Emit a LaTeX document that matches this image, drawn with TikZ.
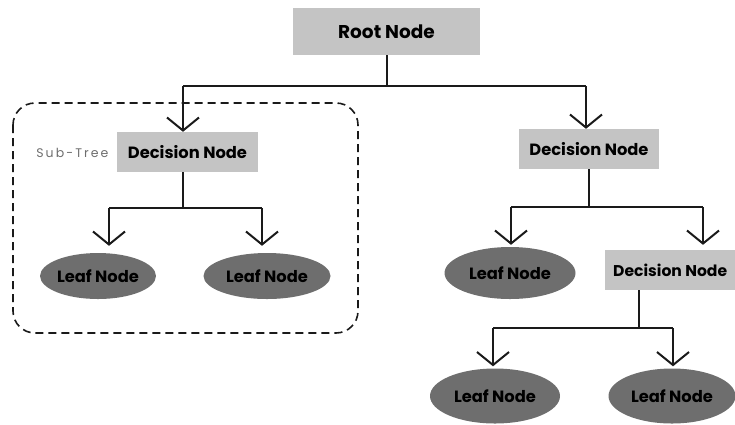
\documentclass[tikz,border=0pt]{standalone}
\usepackage{fontspec}
\setmainfont{Poppins}
\usetikzlibrary{arrows.meta,shapes.geometric,calc}
\definecolor{boxgray}{HTML}{C4C4C4}
\definecolor{leafgray}{HTML}{6E6E6E}
\definecolor{linecol}{HTML}{1A1A1A}
\definecolor{subgray}{HTML}{6E6E6E}
\begin{document}
\begin{tikzpicture}[x=1pt,y=-1pt,
  wire/.style={draw=linecol,line width=2pt},
  arr/.style={wire,-{Straight Barb[length=13pt,width=32pt,line width=2pt]}},
  dbox/.style={rectangle,fill=boxgray,inner sep=0pt,font=\bfseries\fontsize{16.3}{18}\selectfont},
  leaf/.style={ellipse,fill=leafgray,inner sep=0pt,font=\bfseries\fontsize{16.3}{18}\selectfont}]
\useasboundingbox (0,0) rectangle (735,424);
% dashed sub-tree frame
\draw[draw=linecol,line width=1.6pt,dash pattern=on 8pt off 5pt,rounded corners=22pt] (13,103) rectangle (358,333);
% nodes
\node[dbox,minimum width=187pt,minimum height=47pt,font=\bfseries\fontsize{18.5}{20}\selectfont] (root) at (386.5,31.5) {Root Node};
\node[dbox,minimum width=141pt,minimum height=40pt] (d1) at (187.5,152) {Decision Node};
\node[dbox,minimum width=140pt,minimum height=40pt] (d2) at (589,149) {Decision Node};
\node[dbox,minimum width=130pt,minimum height=40pt,anchor=west,font=\bfseries\fontsize{15.6}{18}\selectfont] (d3) at (605,270) {Decision Node};
\node[leaf,minimum width=106pt,minimum height=46pt] (l1) at (98,276) {Leaf Node};
\node[leaf,minimum width=127pt,minimum height=46pt] (l2) at (267,276) {Leaf Node};
\node[leaf,minimum width=131pt,minimum height=52pt] (l3) at (510,273) {Leaf Node};
\node[leaf,minimum width=130pt,minimum height=55pt] (l4) at (495,396) {Leaf Node};
\node[leaf,minimum width=127pt,minimum height=55pt] (l5) at (672,396) {Leaf Node};
\node[text=subgray,font=\fontsize{12.5}{14}\selectfont,anchor=east] (sub) at (112,153) {S\,u\,b\,-\,T\,r\,e\,e};
% junctions
\coordinate (j0) at (386.5,86);
\coordinate (j0l) at (183,86);
\coordinate (j0r) at (586,86);
\coordinate (j1) at (183,208);
\coordinate (j1l) at (109,208);
\coordinate (j1r) at (262,208);
\coordinate (j2) at (589,207);
\coordinate (j2l) at (511,207);
\coordinate (j2r) at (703,207);
\coordinate (j3t) at (639,290);
\coordinate (j3) at (639,328);
\coordinate (j3l) at (493,328);
\coordinate (j3r) at (673,328);
% connectors
\draw[wire] (root.south) -- (j0);
\draw[wire] (j0l) -- (j0r);
\draw[arr] (j0l) -- (j0l |- d1.north);
\draw[arr] (j0r) -- (j0r |- d2.north);
\draw[wire] (j1 |- d1.south) -- (j1);
\draw[wire] (j1l) -- (j1r);
\draw[arr,shorten >=7pt] (j1l) -- (j1l |- l1.north);
\draw[arr,shorten >=7pt] (j1r) -- (j1r |- l2.north);
\draw[wire] (d2.south) -- (j2);
\draw[wire] (j2l) -- (j2r);
\draw[arr,shorten >=2pt] (j2l) -- (j2l |- l3.north);
\draw[arr,shorten >=5pt] (j2r) -- (j2r |- d3.north);
\draw[wire] (j3t) -- (j3);
\draw[wire] (j3l) -- (j3r);
\draw[arr,shorten >=2pt] (j3l) -- (j3l |- l4.north);
\draw[arr,shorten >=2pt] (j3r) -- (j3r |- l5.north);
\end{tikzpicture}
\end{document}
